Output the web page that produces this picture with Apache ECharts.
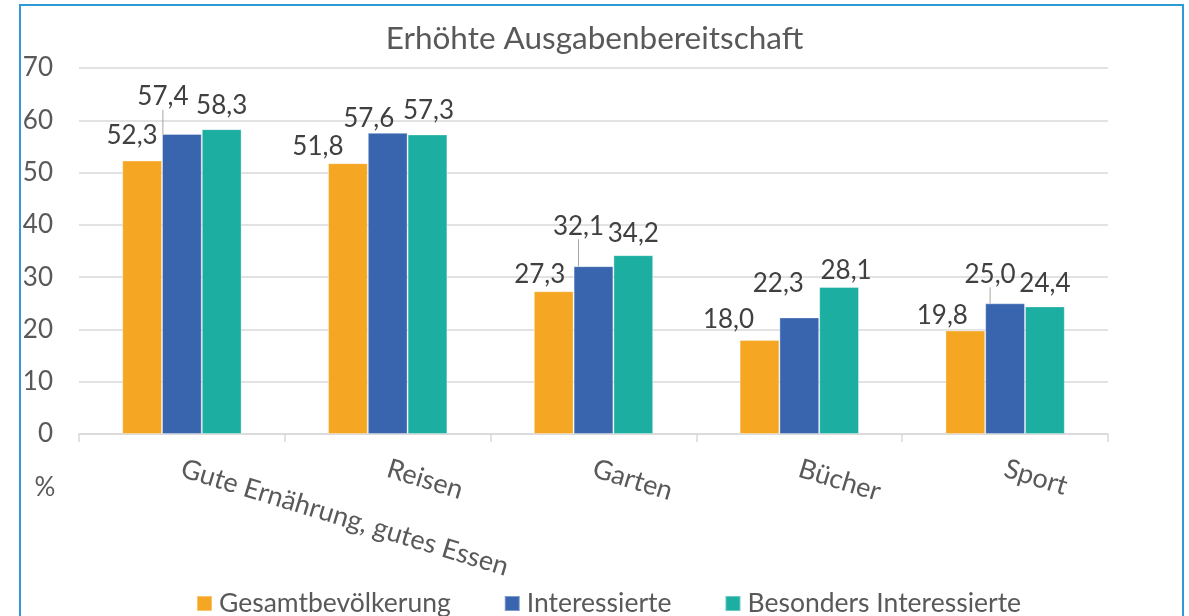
<!DOCTYPE html>
<html>
<head>
<meta charset="utf-8">
<script src="https://cdn.jsdelivr.net/npm/echarts@6/dist/echarts.min.js"></script>
<style>
  html, body { margin: 0; padding: 0; background: #ffffff; }
  #frame { position: absolute; left: 19px; top: 4px; width: 1165px; height: 640px; border: 2px solid #2E9AD6; box-sizing: border-box; }
  #chart { position: absolute; left: 0; top: 0; width: 1189px; height: 616px; }
</style>
</head>
<body>
<div id="frame"></div>
<div id="chart"></div>
<script>
// ---- data ----
const categories = ['Gute Ernährung, gutes Essen', 'Reisen', 'Garten', 'Bücher', 'Sport'];
const seriesNames = ['Gesamtbevölkerung', 'Interessierte', 'Besonders Interessierte'];
const gesamt = [52.3, 51.8, 27.3, 18.0, 19.8];
const interessierte = [57.4, 57.6, 32.1, 22.3, 25.0];
const besonders = [58.3, 57.3, 34.2, 28.1, 24.4];
const yTicks = [0, 10, 20, 30, 40, 50, 60, 70];

// ---- layout (label nudges, in px) ----
const labelShift = [
  [[-10, -9], [-30, -1], [-14, -1], [-31, -4], [-23, 1]],
  [[-19, -21], [-19, 2], [-15, -24], [-21, -18], [-15, -13]],
  [[0, -8], [1, -8], [0, -6], [7, 0], [0, -7]]
];
const leaderLines = [[], [0, 2, 4], []];
const colors = ['#F5A623', '#3965AE', '#1BAEA1'];

const fmt = v => v.toFixed(1).replace('.', ',');
const font = 'Lato, "Noto Sans", sans-serif';

function makeSeries(idx, values) {
  return {
    name: seriesNames[idx],
    type: 'bar',
    barGap: '0%',
    barCategoryGap: '42%',
    itemStyle: { color: colors[idx], borderColor: 'rgba(255,255,255,0.35)', borderWidth: 1 },
    data: values.map((v, i) => ({
      value: v,
      labelLine: { show: leaderLines[idx].indexOf(i) >= 0 }
    })),
    label: {
      show: true,
      position: 'top',
      distance: 3,
      fontFamily: font,
      fontSize: 26,
      color: '#404040',
      formatter: p => fmt(p.value)
    },
    labelLine: { show: false, lineStyle: { color: '#A6A6A6', width: 1 } },
    labelLayout: p => ({ dx: labelShift[idx][p.dataIndex][0], dy: labelShift[idx][p.dataIndex][1] })
  };
}

const chart = echarts.init(document.getElementById('chart'), null, { renderer: 'canvas' });
chart.setOption({
  animation: false,
  backgroundColor: 'transparent',
  title: {
    text: 'Erhöhte Ausgabenbereitschaft',
    left: 'center',
    top: 18,
    textStyle: { fontFamily: font, fontSize: 31.5, fontWeight: 'normal', color: '#595959' }
  },
  legend: {
    left: 191,
    top: 585,
    itemWidth: 15,
    itemHeight: 15,
    itemGap: 53,
    icon: 'rect',
    data: seriesNames,
    textStyle: { fontFamily: font, fontSize: 26.5, color: '#595959', padding: [0, 0, 0, 2] }
  },
  grid: { left: 79, right: 81, top: 68, bottom: 182, containLabel: false },
  xAxis: {
    type: 'category',
    data: categories,
    axisLine: { lineStyle: { color: '#D9D9D9', width: 1.5 } },
    axisTick: { show: true, length: 8, lineStyle: { color: '#D9D9D9', width: 1.5 } },
    axisLabel: { rotate: -17, margin: 34, fontFamily: font, fontSize: 27, color: '#595959', interval: 0 }
  },
  yAxis: {
    type: 'value',
    min: yTicks[0],
    max: yTicks[yTicks.length - 1],
    interval: yTicks[1] - yTicks[0],
    name: '%',
    nameLocation: 'start',
    nameGap: 41,
    nameTextStyle: { fontFamily: font, fontSize: 26, color: '#595959', align: 'center', padding: [0, 68, 0, 0] },
    axisLine: { show: false },
    axisTick: { show: false },
    axisLabel: { margin: 26, fontFamily: font, fontSize: 26, color: '#595959' },
    splitLine: { lineStyle: { color: '#D9D9D9', width: 1.5 } }
  },
  series: [makeSeries(0, gesamt), makeSeries(1, interessierte), makeSeries(2, besonders)]
});
</script>
</body>
</html>
